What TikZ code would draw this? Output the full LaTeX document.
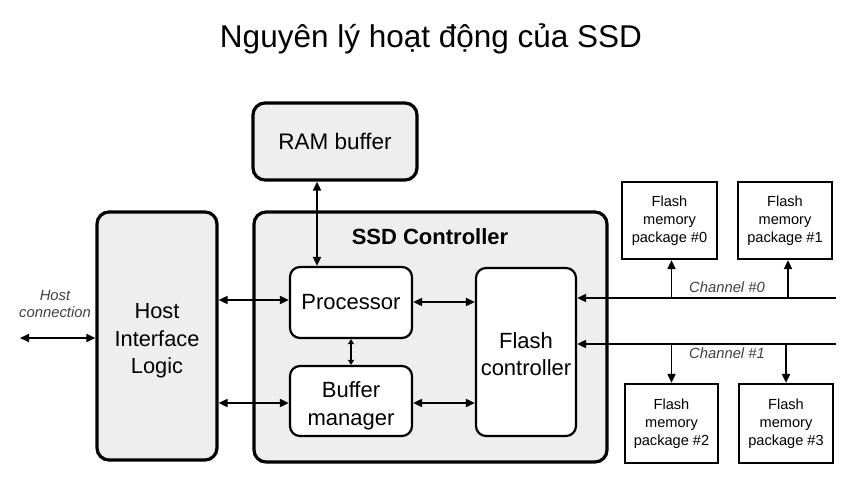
\documentclass[tikz,border=0pt]{standalone}
\usepackage{fontspec}
\setmainfont{Liberation Sans}
\usetikzlibrary{arrows.meta}
\definecolor{boxgray}{HTML}{EEEEEE}
\begin{document}
\begin{tikzpicture}[x=1pt,y=-1pt,
  bigbox/.style={draw=black,line width=3.2pt,rounded corners=12pt,fill=boxgray,align=center,inner sep=0pt},
  inbox/.style={draw=black,line width=2.2pt,rounded corners=10pt,fill=white,align=center,inner sep=0pt,font=\fontsize{22}{27.5}\selectfont},
  pkgbox/.style={draw=black,line width=2.2pt,fill=white,align=center,inner sep=0pt,font=\fontsize{14.6}{18}\selectfont},
  boxtext/.style={align=center,inner sep=0pt,font=\fontsize{22}{27.5}\selectfont},
  conn/.style={line width=1.8pt,{Triangle[length=9pt,width=8pt]}-{Triangle[length=9pt,width=8pt]}},
  oneway/.style={line width=1.8pt,-{Triangle[length=9pt,width=8pt]}},
  lbl/.style={font=\itshape\fontsize{14.8}{17}\selectfont,text=black!75,align=center}]
\useasboundingbox (0,0) rectangle (850,494);
\node[font=\fontsize{31.5}{36}\selectfont] (title) at (431,39) {Nguyên lý hoạt động của SSD};
\node[bigbox,minimum width=120pt,minimum height=248pt] (hil) at (157,336) {};
\node[boxtext,font=\fontsize{21.8}{27.5}\selectfont] (hilt) at ([yshift=-5pt]hil.center) {Host\\Interface\\Logic};
\node[bigbox,minimum width=164pt,minimum height=77pt,font=\fontsize{22.5}{27}\selectfont] (ram) at (335,141.5) {RAM buffer};
\node[bigbox,minimum width=353pt,minimum height=250pt] (ssd) at (430.5,337) {};
\node[font=\bfseries\fontsize{22}{26}\selectfont] (ssdl) at (430,237) {SSD Controller};
\node[inbox,minimum width=122pt,minimum height=71pt] (proc) at (351,302.5) {Processor};
\node[inbox,minimum width=122pt,minimum height=70pt] (buf) at (351,401) {};
\node[boxtext] (buft) at ([yshift=-5pt]buf.center) {Buffer\\manager};
\node[inbox,minimum width=100pt,minimum height=168pt] (fc) at (526,352) {};
\node[boxtext] (fct) at ([yshift=-2pt]fc.center) {Flash\\controller};
\node[pkgbox,minimum width=95pt,minimum height=77pt] (p0) at (669.5,220.5) {Flash\\memory\\package \#0};
\node[pkgbox,minimum width=94pt,minimum height=77pt] (p1) at (785,220.5) {Flash\\memory\\package \#1};
\node[pkgbox,minimum width=93pt,minimum height=79pt] (p2) at (671.5,423.5) {Flash\\memory\\package \#2};
\node[pkgbox,minimum width=94pt,minimum height=79pt] (p3) at (786,423.5) {Flash\\memory\\package \#3};
\node[lbl] (hcl) at (55,304) {Host\\connection};
\node[lbl] (c0l) at (727,287) {Channel \#0};
\node[lbl] (c1l) at (727,353) {Channel \#1};
\coordinate (hc) at (20,338);
\coordinate (ch0) at (836,298);
\coordinate (ch1) at (836,344);
\draw[conn] (hc) -- (hc -| hil.west);
\draw[conn] (hil.east |- 0,300) coordinate (a1) -- (a1 -| proc.west);
\draw[conn] (hil.east |- 0,403) coordinate (a2) -- (a2 -| buf.west);
\draw[conn] ([xshift=-18pt]ram.south) -- ([xshift=-18pt]ram.south |- proc.north);
\draw[line width=1.4pt,{Triangle[length=5pt,width=6pt]}-{Triangle[length=5pt,width=6pt]}] (proc.south) -- (buf.north);
\draw[conn] (proc.east |- 0,302) coordinate (a3) -- (a3 -| fc.west);
\draw[conn] (buf.east |- 0,403) coordinate (a4) -- (a4 -| fc.west);
\draw[oneway] (ch0) -- (ch0 -| fc.east);
\draw[oneway] (ch1) -- (ch1 -| fc.east);
\draw[oneway] ([xshift=2pt]p0.south |- ch0) -- ([xshift=2pt]p0.south);
\draw[oneway] ([xshift=3pt]p1.south |- ch0) -- ([xshift=3pt]p1.south);
\draw[oneway] (p2.north |- ch1) -- (p2.north);
\draw[oneway] (p3.north |- ch1) -- (p3.north);
\end{tikzpicture}
\end{document}
